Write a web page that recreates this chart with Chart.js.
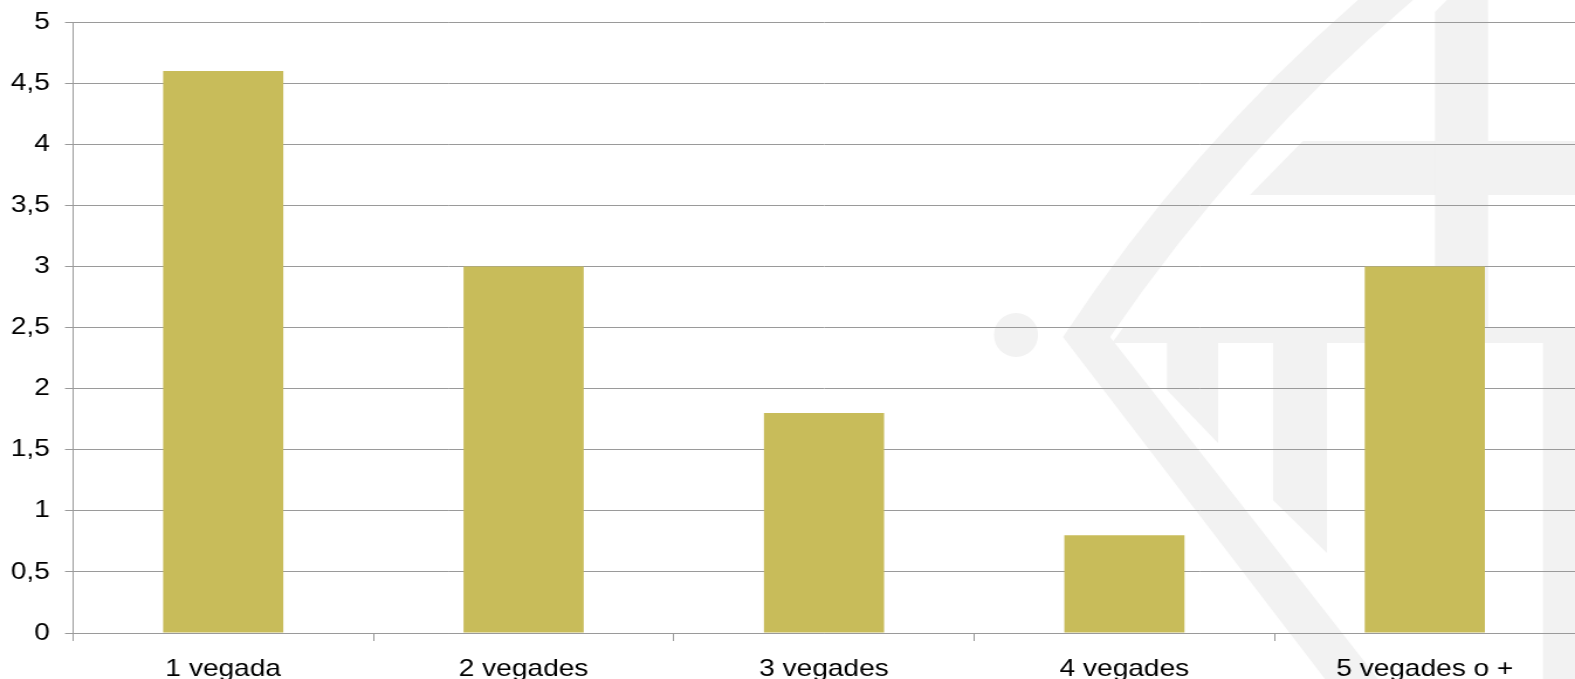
<!DOCTYPE html>
<html>
<head>
<meta charset="utf-8">
<script src="https://cdn.jsdelivr.net/npm/chart.js@4/dist/chart.umd.min.js"></script>
<style>
  html, body { margin: 0; padding: 0; background: #ffffff; overflow: hidden; }
  #wrap { width: 1346px; height: 679px; transform-origin: 0 0; }
  canvas { display: block; }
</style>
</head>
<body>
<div id="wrap"><canvas id="c" width="1346" height="679" style="width:1346px;height:679px"></canvas></div>
<script>
// ---- data ----
const categories = ['1 vegada', '2 vegades', '3 vegades', '4 vegades', '5 vegades o +'];
const values = [4.6, 3, 1.8, 0.8, 3];
const yTickLabels = ['0', '0,5', '1', '1,5', '2', '2,5', '3', '3,5', '4', '4,5', '5'];

// ---- layout ----
const PAGE_W = 1575, CANVAS_W = 1346;
const SX = PAGE_W / CANVAS_W;            // horizontal stretch of the original picture
document.getElementById('wrap').style.transform = 'scaleX(' + SX + ')';

const GRID = '#9a9a9a';
const FONT = { family: '"Liberation Sans", Arial, sans-serif', size: 24 };

// faint background logo (decoration, page coordinates)
const watermark = {
  id: 'watermark',
  beforeDraw(chart) {
    const ctx = chart.ctx;
    ctx.save();
    ctx.fillStyle = '#ffffff';
    ctx.fillRect(0, 0, chart.width, chart.height);
    ctx.scale(1 / SX, 1);
    ctx.fillStyle = '#f2f2f2';
    // chevron band (curved upper arm, straight lower arm)
    ctx.beginPath();
    ctx.moveTo(1358, 0);
    ctx.quadraticCurveTo(1187, 149, 1063, 337);
    ctx.lineTo(1325, 679);
    ctx.lineTo(1378, 679);
    ctx.lineTo(1110, 337);
    ctx.quadraticCurveTo(1238, 149, 1413, 0);
    ctx.closePath();
    ctx.fill();
    const polys = [
      [[1303,141],[1575,141],[1575,195],[1250,195]],
      [[1447,0],[1488,0],[1488,328],[1435,328],[1435,12]],
      [[1123,328],[1575,328],[1575,343],[1112,343]],
      [[1167,343],[1218,343],[1218,443],[1167,390]],
      [[1273,343],[1327,343],[1327,553],[1273,500]],
      [[1543,343],[1575,343],[1575,679],[1543,679]]
    ];
    for (const p of polys) {
      ctx.beginPath();
      ctx.moveTo(p[0][0], p[0][1]);
      for (let i = 1; i < p.length; i++) ctx.lineTo(p[i][0], p[i][1]);
      ctx.closePath();
      ctx.fill();
    }
    ctx.beginPath();
    ctx.arc(1016, 335, 22, 0, Math.PI * 2);
    ctx.fill();
    ctx.restore();
  }
};

new Chart(document.getElementById('c'), {
  type: 'bar',
  data: {
    labels: categories,
    datasets: [{
      data: values,
      backgroundColor: '#C8BC5A',
      borderWidth: 0,
      barPercentage: 0.4,
      categoryPercentage: 1.0
    }]
  },
  options: {
    responsive: false,
    animation: false,
    devicePixelRatio: 1,
    layout: { autoPadding: false, padding: { top: 22, left: 0, right: 0, bottom: 0 } },
    plugins: { legend: { display: false }, tooltip: { enabled: false } },
    scales: {
      x: {
        offset: true,
        grid: { offset: true, drawOnChartArea: false, color: GRID, tickLength: 8 },
        border: { color: GRID },
        ticks: { color: '#000', font: FONT, padding: 14, maxRotation: 0 },
        afterFit(scale) { scale.height = 46; scale.paddingLeft = 0; scale.paddingRight = 0; }
      },
      y: {
        min: 0,
        max: 5,
        ticks: {
          stepSize: 0.5,
          color: '#000',
          font: FONT,
          padding: 13,
          callback: (v, i) => yTickLabels[i]
        },
        grid: { color: GRID, tickLength: 8 / SX },
        border: { color: GRID },
        afterFit(scale) { scale.width = 73 / SX; scale.paddingTop = 0; scale.paddingBottom = 0; }
      }
    }
  },
  plugins: [watermark]
});
</script>
</body>
</html>
